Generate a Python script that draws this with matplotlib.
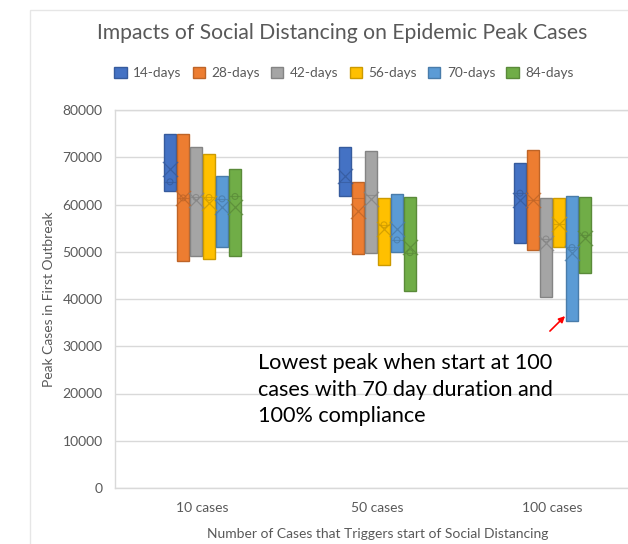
import numpy as np
import matplotlib.pyplot as plt
from matplotlib.patches import Rectangle
from matplotlib.colors import to_rgb

# Daten
groups = ['10 cases', '50 cases', '100 cases']
durations = ['14-days', '28-days', '42-days', '56-days', '70-days', '84-days']
colors = ['#4472C4', '#ED7D31', '#A5A5A5', '#FFC000', '#5B9BD5', '#70AD47']

# unteres / oberes Quartil je Dauer, Reihenfolge wie groups
q1 = {
    '14-days': [62900, 61700, 51800],
    '28-days': [48100, 49500, 50400],
    '42-days': [49000, 49700, 40400],
    '56-days': [48400, 47300, 51000],
    '70-days': [50900, 49900, 35400],
    '84-days': [49200, 41700, 45600],
}
q3 = {
    '14-days': [75000, 72100, 68700],
    '28-days': [75000, 64800, 71500],
    '42-days': [72100, 71400, 61400],
    '56-days': [70700, 61400, 61400],
    '70-days': [66000, 62200, 61900],
    '84-days': [67600, 61600, 61500],
}
means = {
    '14-days': [67500, 66000, 61000],
    '28-days': [61300, 58700, 61000],
    '42-days': [61000, 61100, 51800],
    '56-days': [60400, 54800, 55900],
    '70-days': [59400, 54800, 49700],
    '84-days': [59400, 51100, 53000],
}
medians = {
    '14-days': [64800, 64800, 62400],
    '28-days': [61400, 61400, 61000],
    '42-days': [61500, 62000, 52700],
    '56-days': [61500, 55700, 55900],
    '70-days': [61200, 52500, 50900],
    '84-days': [61700, 49800, 53600],
}
# kleine Kreise (innere Punkte), nan = nicht sichtbar
points = {
    '14-days': [64800, np.nan, 62400],
    '28-days': [61400, np.nan, np.nan],
    '42-days': [61500, np.nan, 52700],
    '56-days': [61500, 55700, np.nan],
    '70-days': [61200, 52500, 50900],
    '84-days': [61700, 49800, 53600],
}
yticks = [0, 10000, 20000, 30000, 40000, 50000, 60000, 70000, 80000]

TXT = '#595959'
GRID = '#d9d9d9'
plt.rcParams['font.family'] = ['Lato', 'DejaVu Sans']

def darker(c, f=0.8):
    return tuple(v * f for v in to_rgb(c))

fig = plt.figure(figsize=(6.28, 5.44), dpi=100)
W, H = 628, 544
ax = fig.add_axes([115 / W, 56 / H, 525 / W, 378 / H])

# Rahmen des Diagrammbereichs
fig.add_artist(Rectangle((30 / W, -0.1), 1.0, 534 / H + 0.1, transform=fig.transFigure,
                         fill=False, edgecolor='#e6e6e6', lw=1))

x = np.arange(len(groups))
step = 0.0743
width = 0.0714

for i, d in enumerate(durations):
    pos = x + (i - 2.5) * step
    lo = np.array(q1[d])
    hi = np.array(q3[d])
    ec = darker(colors[i])
    ax.bar(pos, hi - lo, bottom=lo, width=width, color=colors[i], edgecolor=ec,
           linewidth=1, label=d, zorder=3)
    for p, m in zip(pos, medians[d]):
        ax.plot([p - width / 2, p + width / 2], [m, m], color=ec, lw=0.8, alpha=0.7, zorder=4)
    ax.scatter(pos, means[d], marker='x', s=120, color=ec, linewidths=0.9, alpha=0.8, zorder=5)
    ax.scatter(pos, points[d], marker='o', s=18, facecolor='none', edgecolor=ec,
               linewidths=0.8, alpha=0.8, zorder=5)

ax.set_xlim(-0.5, 2.5)
ax.set_ylim(0, 80000)
ax.set_yticks(yticks)
ax.set_xticks(x)
ax.set_xticklabels(groups)
ax.tick_params(length=0, colors=TXT, labelsize=10)
ax.tick_params(axis='x', pad=10)
ax.tick_params(axis='y', pad=9)
ax.grid(axis='y', color=GRID, lw=1, zorder=0)
ax.set_axisbelow(True)
for s in ax.spines.values():
    s.set_color(GRID)
    s.set_linewidth(1)

ax.set_ylabel('Peak Cases in First Outbreak', color=TXT, fontsize=10, labelpad=5)
ax.set_xlabel('Number of Cases that Triggers start of Social Distancing', color=TXT,
              fontsize=10, labelpad=10)

fig.text(342 / W, 1 - 33 / H, 'Impacts of Social Distancing on Epidemic Peak Cases',
         ha='center', va='center', color=TXT, fontsize=15.2)

fig.legend(loc='center', bbox_to_anchor=(344 / W, 1 - 73 / H), ncol=6, frameon=False,
           fontsize=9.8, handlelength=0.9, handleheight=0.9, handletextpad=0.5,
           columnspacing=0.8, labelcolor=TXT)

fig.text(258 / W, 1 - 353 / H,
         'Lowest peak when start at 100\ncases with 70 day duration and\n100% compliance',
         ha='left', va='top', fontsize=15.6, color='black', linespacing=1.42)

# roter Pfeil zum niedrigsten Wert
ax.annotate('', xy=(2.083, 36800), xytext=(1.974, 32800),
            arrowprops=dict(arrowstyle='-|>', color='red', lw=1.2, mutation_scale=9))

fig.savefig('out.png', dpi=100)
